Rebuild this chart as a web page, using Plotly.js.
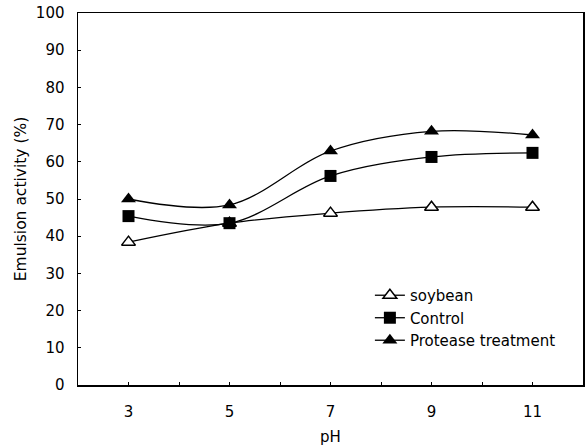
<!DOCTYPE html>
<html>
<head>
<meta charset="utf-8">
<script src="https://cdn.plot.ly/plotly-3.0.1.min.js"></script>
<style>html,body{margin:0;padding:0;background:#fff;}#chart{width:588px;height:447px;}</style>
</head>
<body>
<div id="chart"></div>
<script>
const pH = [3, 5, 7, 9, 11];
const soybean = [38.4, 43.5, 46.2, 47.8, 47.8];
const control = [45.4, 43.5, 56.2, 61.3, 62.4];
const protease = [50.0, 48.4, 62.9, 68.2, 67.2];
const seriesNames = ['soybean', 'Control', 'Protease treatment'];
const xTickVals = [3, 4, 5, 6, 7, 8, 9, 10, 11];
const xTickText = ['3', '', '5', '', '7', '', '9', '', '11'];
const yTickVals = [0, 10, 20, 30, 40, 50, 60, 70, 80, 90, 100];

const font = 'DejaVu Sans, Liberation Sans, Arial, sans-serif';
const lineStyle = {color: '#000', width: 1.3, shape: 'spline', smoothing: 1};

const traces = [
  {x: pH, y: soybean, name: seriesNames[0], mode: 'lines+markers', line: lineStyle,
   marker: {symbol: 'triangle-up', size: 12, color: '#fff', line: {color: '#000', width: 1.5}}},
  {x: pH, y: control, name: seriesNames[1], mode: 'lines+markers', line: lineStyle,
   marker: {symbol: 'square', size: 12, color: '#000', line: {color: '#000', width: 0}}},
  {x: pH, y: protease, name: seriesNames[2], mode: 'lines+markers', line: lineStyle,
   marker: {symbol: 'triangle-up', size: 13, color: '#000', line: {color: '#000', width: 0}}}
];

const layout = {
  width: 588, height: 447,
  margin: {l: 78, r: 5, t: 13, b: 62},
  paper_bgcolor: '#fff', plot_bgcolor: '#fff',
  font: {family: font, size: 15, color: '#000'},
  showlegend: true,
  legend: {x: 0.578, y: 0.285, xanchor: 'left', yanchor: 'top', bgcolor: 'rgba(0,0,0,0)',
           font: {family: font, size: 15, color: '#000'}, tracegroupgap: 0, itemwidth: 30},
  xaxis: {range: [2, 12], tickvals: xTickVals, ticktext: xTickText,
          showgrid: false, zeroline: false, showline: true, mirror: true, linecolor: '#000', linewidth: 1.5,
          ticks: 'inside', ticklen: 3, tickcolor: '#000', ticklabelstandoff: 12,
          tickfont: {family: font, size: 15}, title: {text: 'pH', font: {family: font, size: 15}, standoff: 12}},
  yaxis: {range: [0, 100], tickvals: yTickVals,
          showgrid: false, zeroline: false, showline: true, mirror: true, linecolor: '#000', linewidth: 1.5,
          ticks: 'inside', ticklen: 3, tickcolor: '#000', ticklabelstandoff: 9,
          tickfont: {family: font, size: 15}, title: {text: 'Emulsion activity (%)', font: {family: font, size: 15.5}, standoff: 5}}
};

Plotly.newPlot('chart', traces, layout, {staticPlot: true, displayModeBar: false});
</script>
</body>
</html>
